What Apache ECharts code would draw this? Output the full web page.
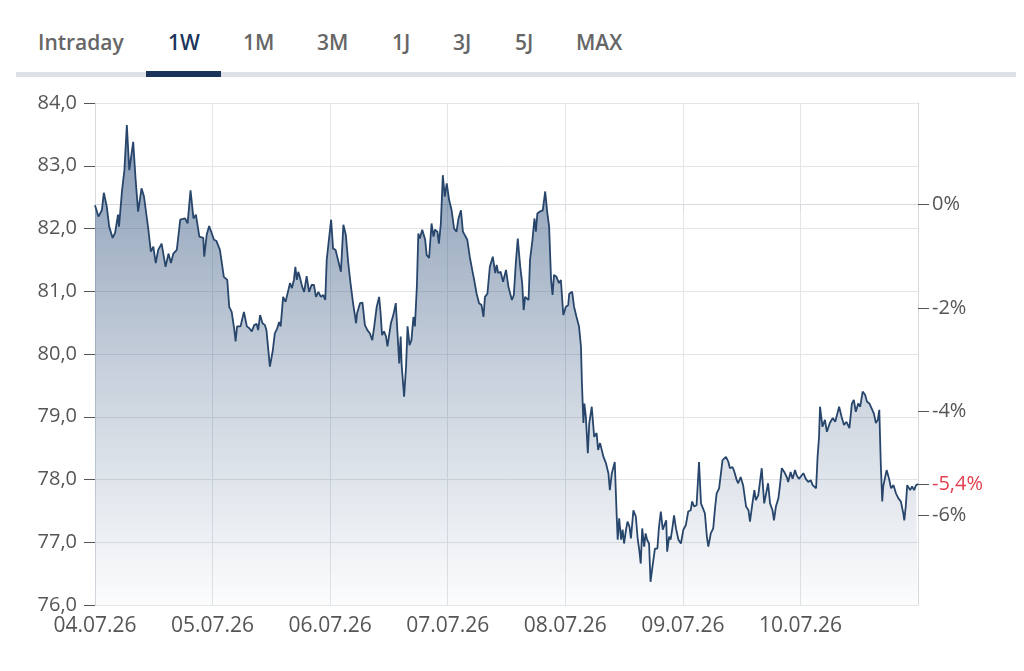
<!DOCTYPE html>
<html>
<head>
<meta charset="utf-8">
<script src="https://cdn.jsdelivr.net/npm/echarts@6/dist/echarts.min.js"></script>
<style>
  html, body { margin: 0; padding: 0; background: #fff; width: 1024px; height: 671px; overflow: hidden; }
  .tabs { position: absolute; left: 0; top: 0; width: 1024px; height: 80px; font-family: "Open Sans", sans-serif; }
  .tab { position: absolute; top: 28px; font-size: 21px; font-weight: 600; color: #666; line-height: 28px; }
  .tab.active { color: #1b355a; }
  .track { position: absolute; left: 16px; top: 72px; width: 1000px; height: 5px; background: #dde1e6; }
  .track-active { position: absolute; left: 146px; top: 71px; width: 75px; height: 6px; background: #1b355a; }
  #chart { position: absolute; left: 0; top: 80px; width: 1024px; height: 591px; }
</style>
</head>
<body>
<div class="tabs">
  <span class="tab" style="left:38px">Intraday</span>
  <span class="tab active" style="left:168px">1W</span>
  <span class="tab" style="left:243px">1M</span>
  <span class="tab" style="left:317px">3M</span>
  <span class="tab" style="left:392px">1J</span>
  <span class="tab" style="left:453px">3J</span>
  <span class="tab" style="left:515px">5J</span>
  <span class="tab" style="left:576px">MAX</span>
  <div class="track"></div>
  <div class="track-active"></div>
</div>
<div id="chart"></div>
<script>
// x-axis day labels (one per 24h)
const dayLabels = ['04.07.26', '05.07.26', '06.07.26', '07.07.26', '08.07.26', '09.07.26', '10.07.26', '11.07.26']

// reference price for the percent axis (0%) and percent ticks
const basePrice = 82.38
const pctTicks = [0, -2, -4, -6]

// hours since 04.07.26 00:00
const hours = [
  0.0, 0.7, 1.4, 1.8, 2.4, 2.9, 3.6, 4.1, 4.7, 4.9, 5.5, 6.0, 6.5, 7.0, 7.8, 8.3, 8.8, 9.5, 10.0, 10.3,
  10.9, 11.4, 11.9, 12.4, 12.9, 13.6, 13.9, 14.4, 15.0, 15.5, 16.0, 16.7, 17.4, 18.4, 18.9, 19.5, 20.1, 20.6, 21.3, 22.1,
  22.3, 22.8, 23.3, 24.3, 24.8,
  25.5, 26.3, 27.0, 27.4, 27.9, 28.4, 28.7, 29.0, 29.7, 30.4, 31.0, 31.5, 32.0, 32.5, 33.0, 33.3, 33.7, 34.2, 34.7, 35.0,
  35.7, 36.3, 36.7, 37.2, 37.6, 37.9, 38.4, 38.9, 39.3, 39.8, 40.2, 40.6, 40.9, 41.2, 41.5, 41.8, 42.3, 42.7, 43.2, 43.7,
  44.2, 44.7, 45.1, 45.6, 46.1, 46.6, 47.0, 47.3, 47.7, 48.2, 48.6, 49.1, 49.7, 50.2, 50.7, 51.2, 51.7, 52.2, 52.7, 53.3,
  53.5, 54.1, 54.6, 55.1, 55.6, 56.1, 56.6, 57.0, 57.5, 58.0, 58.3, 58.6, 59.0, 59.4, 59.7, 60.1, 60.4, 60.9, 61.4, 61.8,
  62.1, 62.4, 62.6, 63.1, 63.5, 63.8, 64.2, 64.6, 65.0, 65.3, 65.7, 66.0, 66.3, 66.8, 67.4, 67.7, 68.2, 68.7, 69.1, 69.4,
  69.9, 70.2, 70.6, 71.0, 71.4, 71.8, 72.3, 72.8, 73.3, 73.8, 74.2, 74.7, 75.1, 75.5, 76.0, 76.5, 77.0, 77.4, 77.9, 78.4,
  78.9,
  79.3, 79.6, 80.1, 80.6, 81.2, 81.7, 82.0, 82.3, 82.8, 83.3, 83.9, 84.4, 85.1, 85.5, 85.9, 86.3, 86.8, 87.2, 87.5, 87.8,
  88.5, 88.8, 89.3, 89.7, 90.0, 90.3, 90.8, 91.4, 91.9, 92.3, 92.7, 93.1, 93.4, 93.7, 94.2, 94.7, 95.1, 95.6, 96.1, 96.6,
  96.8, 97.4, 97.8, 98.3, 98.8, 99.2, 99.4, 99.7, 99.9, 100.2, 100.6, 100.9, 101.4, 101.9, 102.4, 102.7,
  103.1, 103.8, 104.3, 104.8, 105.1, 105.5, 106.1, 106.5, 106.7, 107.0, 107.4, 107.7, 108.0, 108.4, 108.7, 109.1, 109.4, 109.9, 110.4, 110.8,
  111.1, 111.4, 111.7, 112.1, 112.4, 112.7, 113.1, 113.4, 113.8, 114.3, 114.8, 115.1, 115.5, 115.9, 116.2, 116.6, 116.8, 117.2, 117.5, 117.9,
  118.2, 118.6, 119.1, 119.6, 120.1, 120.6, 121.1, 121.6, 121.9, 122.3, 122.8, 123.3, 123.7, 124.0, 124.5, 124.9, 125.2, 125.7, 126.2, 126.6,
  126.9, 127.4, 127.7,
  128.1, 128.8, 129.3, 129.6, 130.1, 130.4, 131.0, 131.3, 131.8, 132.3, 132.9, 133.4, 133.7, 134.2, 134.6, 134.9, 135.4, 135.7, 136.1, 136.6,
  137.0, 137.4, 137.8, 138.3, 138.6, 139.0, 139.5, 139.8, 140.2, 140.7, 141.2, 141.5, 142.0, 142.4, 142.9, 143.2, 143.7, 144.1, 144.6, 145.1,
  145.6, 146.1, 146.5, 146.8, 147.2, 147.5, 147.8,
  148.0, 148.5, 149.0, 149.4, 150.0, 150.6, 151.1, 151.5, 151.9, 152.4, 152.9, 153.4, 154.0, 154.5, 154.9, 155.3, 155.8, 156.2, 156.7, 157.2,
  157.6, 158.1, 158.5, 159.0, 159.4, 159.8, 160.1, 160.4, 160.7, 160.9, 161.3, 161.6, 162.1, 162.5, 163.0, 163.5, 164.0, 164.5, 165.0, 165.2,
  165.5, 165.8, 166.4, 166.8, 167.2, 167.6, 168.0
]

const prices = [
  82.37, 82.19, 82.29, 82.57, 82.35, 82.03, 81.85, 81.93, 82.22, 82.03, 82.59, 82.93, 83.65, 82.93, 83.38, 82.77, 82.27, 82.64, 82.51, 82.52,
  81.98, 81.63, 81.71, 81.45, 81.66, 81.76, 81.77, 81.39, 81.60, 81.45, 81.60, 81.66, 82.14, 82.16, 82.08, 82.61, 82.16, 82.22, 81.87, 81.85,
  81.55, 81.90, 82.04, 81.82, 81.80,
  81.66, 81.23, 81.18, 80.75, 80.67, 80.41, 80.20, 80.44, 80.44, 80.67, 80.44, 80.41, 80.36, 80.46, 80.48, 80.38, 80.62, 80.49, 80.46, 80.38,
  79.80, 80.06, 80.33, 80.41, 80.51, 80.44, 80.91, 80.83, 80.83, 81.13, 81.05, 81.18, 81.39, 81.18, 81.31, 81.23, 81.07, 80.99, 81.24, 80.99,
  81.10, 81.10, 80.91, 80.99, 80.91, 80.94, 80.86, 81.50, 81.53, 82.14, 81.68, 81.66, 81.47, 81.31, 82.06, 81.90, 81.45, 81.10, 80.80, 80.49,
  80.65, 80.81, 80.82, 80.46, 80.38, 80.33, 80.22, 80.44, 80.75, 80.91, 80.65, 80.30, 80.36, 80.28, 80.12, 80.12, 80.49, 80.62, 80.81, 80.81,
  79.85, 80.28, 79.82, 79.32, 79.80, 80.44, 80.14, 80.22, 80.59, 80.44, 81.07, 81.92, 81.84, 81.98, 81.82, 81.58, 81.53, 82.08, 81.87, 81.98,
  81.95, 81.76, 82.08, 82.85, 82.51, 82.72, 82.45, 82.29, 82.00, 81.95, 82.16, 82.29, 81.95, 81.95, 81.82, 81.55, 81.34, 81.18, 80.96, 80.81,
  80.78,
  80.59, 80.91, 80.96, 81.39, 81.55, 81.29, 81.42, 81.29, 81.31, 81.15, 81.34, 81.07, 80.86, 80.94, 81.45, 81.84, 81.39, 81.13, 80.70, 80.91,
  80.86, 81.50, 81.82, 82.16, 81.95, 82.24, 82.27, 82.29, 82.59, 82.27, 82.03, 81.18, 80.94, 81.26, 81.23, 81.13, 81.18, 80.62, 80.75, 80.78,
  80.96, 80.99, 80.75, 80.59, 80.44, 80.12, 79.53, 78.90, 79.21, 79.00, 78.42, 78.90, 79.16, 78.68, 78.74, 78.47,
  78.58, 78.36, 78.26, 78.10, 77.83, 78.10, 78.28, 77.41, 77.04, 77.38, 77.04, 77.20, 76.98, 77.20, 77.33, 77.25, 77.06, 77.51, 77.41, 77.04,
  76.88, 76.66, 77.22, 76.93, 77.14, 77.04, 76.98, 76.37, 76.61, 76.90, 76.90, 77.22, 77.49, 77.20, 77.17, 77.35, 76.85, 77.09, 77.04, 77.25,
  77.43, 77.22, 77.04, 76.98, 77.20, 77.27, 77.49, 77.51, 77.65, 77.57, 77.59, 78.28, 77.62, 77.65, 77.46, 77.09, 76.93, 77.14, 77.22, 77.57,
  77.78, 77.86, 77.89,
  78.31, 78.36, 78.28, 78.18, 78.20, 78.15, 77.99, 77.94, 78.04, 77.91, 77.57, 77.51, 77.33, 77.62, 77.83, 77.67, 77.75, 77.73, 78.18, 77.62,
  77.78, 77.94, 77.62, 77.51, 77.35, 77.57, 77.70, 77.89, 78.18, 78.12, 78.04, 77.96, 78.12, 78.01, 78.15, 78.07, 78.01, 78.04, 78.10, 78.01,
  77.96, 77.99, 77.91, 77.94, 77.86, 78.36, 78.68,
  79.16, 78.84, 78.95, 78.76, 78.90, 78.98, 78.92, 78.95, 79.16, 79.00, 78.87, 78.92, 78.82, 79.21, 79.27, 79.08, 79.21, 79.16, 79.40, 79.35,
  79.24, 79.21, 79.21, 79.05, 78.90, 78.95, 79.11, 78.26, 77.65, 77.89, 78.04, 78.15, 78.01, 77.86, 77.91, 77.78, 77.70, 77.65, 77.46, 77.35,
  77.57, 77.91, 77.83, 77.89, 77.83, 77.91, 77.93
]

const priceMin = 76
const priceMax = 84

const lastPrice = prices[prices.length - 1]
const lastPct = Math.round((lastPrice / basePrice - 1) * 1000) / 10
const pctMin = (priceMin / basePrice - 1) * 100
const pctMax = (priceMax / basePrice - 1) * 100

const fmt = (v, d) => v.toFixed(d).replace('.', ',')

const chart = echarts.init(document.getElementById('chart'))

chart.setOption({
  animation: false,
  textStyle: { fontFamily: '"Open Sans", sans-serif' },
  grid: { left: 95, right: 106, top: 23, bottom: 66 },
  xAxis: {
    type: 'value',
    min: 0,
    max: 168,
    interval: 24,
    axisLine: { show: true, lineStyle: { color: '#d6d9de' } },
    axisTick: { show: true, length: 6, lineStyle: { color: '#d6d9de' } },
    splitLine: { show: true, lineStyle: { color: '#e3e5e8' } },
    axisLabel: {
      margin: 11,
      fontSize: 21,
      color: '#555',
      showMaxLabel: false,
      formatter: (v) => dayLabels[Math.round(v / 24)]
    }
  },
  yAxis: [
    {
      type: 'value',
      min: priceMin,
      max: priceMax,
      interval: 1,
      axisLine: { show: true, lineStyle: { color: '#d6d9de' } },
      axisTick: { show: true, length: 11, lineStyle: { color: '#555' } },
      splitLine: { show: true, lineStyle: { color: '#e3e5e8' } },
      axisLabel: { margin: 18, fontSize: 20, color: '#555', formatter: (v) => fmt(v, 1) }
    },
    {
      type: 'value',
      position: 'right',
      min: pctMin,
      max: pctMax,
      axisLine: { show: true, lineStyle: { color: '#d6d9de' } },
      splitLine: { show: false },
      axisTick: {
        show: true,
        length: 11,
        customValues: pctTicks.concat([lastPct]),
        lineStyle: { color: '#555' }
      },
      axisLabel: {
        margin: 14,
        fontSize: 20,
        customValues: pctTicks.concat([lastPct]),
        color: (v) => (Math.abs(v - lastPct) < 0.01 ? '#e5404f' : '#555'),
        formatter: (v) => (Number.isInteger(v) ? v : fmt(v, 1)) + '%'
      }
    }
  ],
  series: [
    {
      type: 'line',
      yAxisIndex: 0,
      data: hours.map((h, i) => [h, prices[i]]),
      showSymbol: false,
      lineStyle: { color: '#28466b', width: 1.8 },
      areaStyle: {
        origin: 'start',
        color: new echarts.graphic.LinearGradient(0, 0, 0, 1, [
          { offset: 0, color: 'rgba(40, 75, 120, 0.8)' },
          { offset: 0.5, color: 'rgba(40, 75, 120, 0.38)' },
          { offset: 1, color: 'rgba(40, 75, 120, 0.02)' }
        ])
      }
    }
  ]
})
</script>
</body>
</html>
